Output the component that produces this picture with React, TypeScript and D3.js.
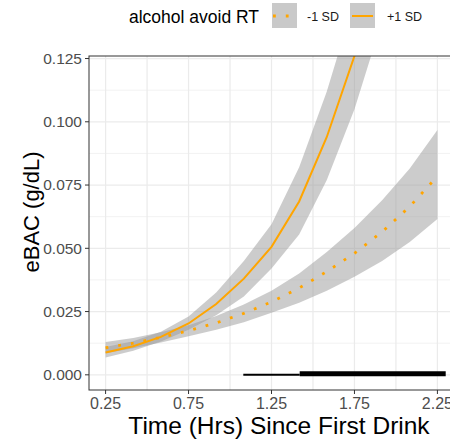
import React from 'react';
import * as d3 from 'd3';

// time points (hours since first drink), 10-minute steps
const times = [0.25, 0.4167, 0.5833, 0.75, 0.9167, 1.0833, 1.25, 1.4167, 1.5833, 1.75, 1.9167, 2.0833, 2.25];

// +1 SD (solid) — goes off the top after ~1.75
const plusFit = [0.0088, 0.0113, 0.015, 0.0203, 0.028, 0.038, 0.0506, 0.0685, 0.094, 0.126, 0.17];
const plusLo = [0.0068, 0.0095, 0.0132, 0.0178, 0.0235, 0.031, 0.042, 0.0555, 0.077, 0.105, 0.14];
const plusHi = [0.011, 0.0133, 0.017, 0.023, 0.0325, 0.045, 0.0595, 0.082, 0.112, 0.148, 0.2];

// -1 SD (dotted)
const minusFit = [0.0107, 0.0125, 0.0148, 0.0174, 0.0205, 0.0243, 0.0288, 0.0343, 0.0408, 0.048, 0.0565, 0.0665, 0.0785];
const minusLo = [0.0085, 0.0105, 0.0128, 0.0152, 0.0178, 0.0208, 0.0245, 0.0285, 0.0332, 0.0388, 0.045, 0.0525, 0.0616];
const minusHi = [0.013, 0.0146, 0.0168, 0.0196, 0.0232, 0.0278, 0.0332, 0.04, 0.0485, 0.058, 0.069, 0.0815, 0.0968];

// significance regions drawn along y = 0
const sigThin = [1.08, 1.42];
const sigThick = [1.42, 2.3];

const xTicks = [0.25, 0.75, 1.25, 1.75, 2.25];
const xGrid = [0.25, 0.5, 0.75, 1.0, 1.25, 1.5, 1.75, 2.0, 2.25];
const yTicks = [0, 0.025, 0.05, 0.075, 0.1, 0.125];
const yMinor = [0.0125, 0.0375, 0.0625, 0.0875, 0.1125];

const W = 450;
const H = 442;
const left = 89;
const right = 454;
const top = 56;
const bottom = 390;
const ORANGE = '#FFA500';
const FONT = 'Liberation Sans, Arial, sans-serif';

export default function App() {
  const x = d3.scaleLinear().domain([0.15, 2.35]).range([left, right]);
  const y = d3.scaleLinear().domain([-0.006, 0.126]).range([bottom, top]);

  const line = d3.line<[number, number]>().x(d => x(d[0])).y(d => y(d[1]));
  const area = d3
    .area<[number, number, number]>()
    .x(d => x(d[0]))
    .y0(d => y(d[1]))
    .y1(d => y(d[2]));

  const plusPts = plusFit.map((v, i) => [times[i], v] as [number, number]);
  const minusPts = minusFit.map((v, i) => [times[i], v] as [number, number]);
  const plusBand = plusFit.map((_, i) => [times[i], plusLo[i], plusHi[i]] as [number, number, number]);
  const minusBand = minusFit.map((_, i) => [times[i], minusLo[i], minusHi[i]] as [number, number, number]);

  return (
    <svg width={W} height={H} style={{ position: 'absolute', left: 0, top: 0, background: '#fff' }}>
      <defs>
        <clipPath id="panel">
          <rect x={left} y={top} width={right - left} height={bottom - top} />
        </clipPath>
      </defs>

      {/* legend */}
      <g fontFamily={FONT}>
        <text x={129} y={22.5} fontSize={17.5} fill="#000">alcohol avoid RT</text>
        <rect x={272} y={3} width={25} height={25} fill="#C9C9C9" />
        <line x1={273} x2={297} y1={16} y2={16} stroke={ORANGE} strokeWidth={2.8} strokeDasharray="2.8 10" />
        <text x={307} y={20.5} fontSize={12.5} fill="#1a1a1a">-1 SD</text>
        <rect x={350} y={3} width={25} height={25} fill="#C9C9C9" />
        <line x1={352} x2={373} y1={16} y2={16} stroke={ORANGE} strokeWidth={2} />
        <text x={387} y={20.5} fontSize={12.5} fill="#1a1a1a">+1 SD</text>
      </g>

      {/* grid */}
      <g>
        {yMinor.map(v => (
          <line key={'ym' + v} x1={left} x2={right} y1={y(v)} y2={y(v)} stroke="#F2F2F2" strokeWidth={1} />
        ))}
        {xGrid.map(v => (
          <line key={'xg' + v} x1={x(v)} x2={x(v)} y1={top} y2={bottom} stroke="#EBEBEB" strokeWidth={1.2} />
        ))}
        {yTicks.map(v => (
          <line key={'yg' + v} x1={left} x2={right} y1={y(v)} y2={y(v)} stroke="#EBEBEB" strokeWidth={1.2} />
        ))}
      </g>

      {/* ribbons and lines */}
      <g clipPath="url(#panel)">
        <path d={area(minusBand) || ''} fill="#999" fillOpacity={0.5} />
        <path d={area(plusBand) || ''} fill="#999" fillOpacity={0.5} />
        <path d={line(minusPts) || ''} fill="none" stroke={ORANGE} strokeWidth={2.8} strokeDasharray="2.8 10" />
        <path d={line(plusPts) || ''} fill="none" stroke={ORANGE} strokeWidth={2} />
        <line x1={x(sigThin[0])} x2={x(sigThin[1])} y1={y(0)} y2={y(0)} stroke="#000" strokeWidth={2} />
        <line x1={x(sigThick[0])} x2={x(sigThick[1])} y1={y(0) - 1} y2={y(0) - 1} stroke="#000" strokeWidth={5} />
      </g>

      {/* panel border */}
      <rect x={left} y={top} width={right - left} height={bottom - top} fill="none" stroke="#333" strokeWidth={1} />

      {/* y axis */}
      <g fontFamily={FONT} fontSize={15.5} fill="#4D4D4D">
        {yTicks.map(v => (
          <g key={'yt' + v}>
            <line x1={left - 4} x2={left} y1={y(v)} y2={y(v)} stroke="#333" strokeWidth={1} />
            <text x={left - 7} y={y(v)} dy="0.35em" textAnchor="end">{d3.format('.3f')(v)}</text>
          </g>
        ))}
      </g>

      {/* x axis */}
      <g fontFamily={FONT} fontSize={16} fill="#4D4D4D">
        {xTicks.map(v => (
          <g key={'xt' + v}>
            <line x1={x(v)} x2={x(v)} y1={bottom} y2={bottom + 4} stroke="#333" strokeWidth={1} />
            <text x={x(v)} y={409} textAnchor="middle">{d3.format('.2f')(v)}</text>
          </g>
        ))}
      </g>

      <text x={279} y={434} textAnchor="middle" fontFamily={FONT} fontSize={24.5} fill="#000">
        Time (Hrs) Since First Drink
      </text>
      <text
        transform={`translate(39, 212) rotate(-90)`}
        textAnchor="middle"
        fontFamily={FONT}
        fontSize={22}
        fill="#000"
      >
        eBAC (g/dL)
      </text>
    </svg>
  );
}
